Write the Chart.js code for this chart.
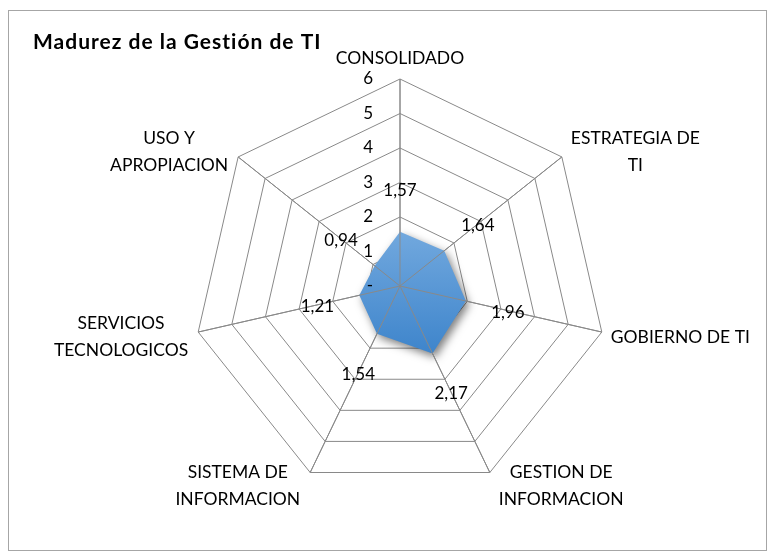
<!DOCTYPE html>
<html>
<head>
<meta charset="utf-8">
<script src="https://cdn.jsdelivr.net/npm/chart.js@4/dist/chart.umd.min.js"></script>
<style>
  html, body { margin: 0; padding: 0; background: #ffffff; }
  #wrap { position: relative; width: 775px; height: 560px; }
  #frame { position: absolute; left: 8px; top: 10px; width: 759px; height: 541px; border: 1px solid #a6a6a6; box-sizing: border-box; pointer-events: none; }
  canvas { position: absolute; left: 0; top: 0; }
</style>
</head>
<body>
<div id="wrap">
  <canvas id="c" width="775" height="560"></canvas>
  <div id="frame"></div>
</div>
<script>
// ---- data ----
const chartTitle = 'Madurez de la Gestión de TI';
const categories = [
  ['CONSOLIDADO'],
  ['ESTRATEGIA DE', 'TI'],
  ['GOBIERNO DE TI'],
  ['GESTION DE', 'INFORMACION'],
  ['SISTEMA DE', 'INFORMACION'],
  ['SERVICIOS', 'TECNOLOGICOS'],
  ['USO Y', 'APROPIACION']
];
const seriesValues = [1.57, 1.64, 1.96, 2.17, 1.54, 1.21, 0.94];
const tickValues = [0, 1, 2, 3, 4, 5, 6];
const tickLabels = ['-', '1', '2', '3', '4', '5', '6'];

const FONT = 'Lato, "Open Sans", sans-serif';
const GRID = '#898989';

const excelPlugin = {
  id: 'excelLook',
  beforeDatasetsDraw(chart) {
    const ctx = chart.ctx;
    ctx.save();
    ctx.shadowColor = 'rgba(0,0,0,0.5)';
    ctx.shadowBlur = 9;
    ctx.shadowOffsetX = 3;
    ctx.shadowOffsetY = 4;
  },
  afterDatasetsDraw(chart) {
    const ctx = chart.ctx;
    ctx.restore();
    const s = chart.scales.r;
    // angle lines above the series
    ctx.save();
    ctx.strokeStyle = GRID;
    ctx.lineWidth = 1;
    for (let i = 0; i < categories.length; i++) {
      const p = s.getPointPosition(i, s.drawingArea);
      ctx.beginPath();
      ctx.moveTo(s.xCenter, s.yCenter);
      ctx.lineTo(p.x, p.y);
      ctx.stroke();
    }
    ctx.restore();
  },
  afterDraw(chart) {
    const ctx = chart.ctx;
    const s = chart.scales.r;
    ctx.save();
    ctx.fillStyle = '#000000';
    // title
    ctx.font = 'bold 21px ' + FONT;
    if ('letterSpacing' in ctx) ctx.letterSpacing = '1px';
    ctx.textAlign = 'left';
    ctx.textBaseline = 'middle';
    ctx.fillText(chartTitle, 33, 42);
    if ('letterSpacing' in ctx) ctx.letterSpacing = '0px';

    // tick labels (left of the vertical axis)
    ctx.font = '17px ' + FONT;
    ctx.textAlign = 'right';
    tickValues.forEach((v, k) => {
      const y = s.yCenter - s.getDistanceFromCenterForValue(v);
      ctx.fillText(tickLabels[k], s.xCenter - 27, y);
    });

    // category labels
    ctx.font = '17.5px ' + FONT;
    ctx.textAlign = 'center';
    const lh = 27;
    categories.forEach((lines, i) => {
      const a = i * 2 * Math.PI / categories.length;
      const sn = Math.sin(a), cs = Math.cos(a);
      const v = s.getPointPosition(i, s.drawingArea);
      const w = Math.max(...lines.map(t => ctx.measureText(t).width));
      let cx, cy;
      if (Math.abs(sn) < 0.01) {
        cx = v.x;
        cy = v.y - 21 - (lines.length - 1) * lh / 2;
      } else {
        cy = v.y - cs * 12 + 2.5;
        cx = sn > 0 ? v.x + 9 + w / 2 : v.x - 10 - w / 2;
      }
      lines.forEach((t, k) => {
        ctx.fillText(t, cx, cy + (k - (lines.length - 1) / 2) * lh);
      });
    });

    // data labels
    ctx.font = '17px ' + FONT;
    seriesValues.forEach((val, i) => {
      const p = s.getPointPosition(i, s.getDistanceFromCenterForValue(val) + 43);
      ctx.fillText(val.toFixed(2).replace('.', ','), p.x, p.y + 1.5);
    });
    ctx.restore();
  }
};

new Chart(document.getElementById('c'), {
  type: 'radar',
  data: {
    labels: categories,
    datasets: [{
      data: seriesValues,
      backgroundColor(context) {
        const chart = context.chart;
        const s = chart.scales.r;
        if (!s || !chart.chartArea) return '#5b9bd5';
        const g = chart.ctx.createLinearGradient(0, s.yCenter - 60, 0, s.yCenter + 70);
        g.addColorStop(0, '#74aadf');
        g.addColorStop(1, '#3d84cb');
        return g;
      },
      borderWidth: 0,
      borderColor: 'rgba(0,0,0,0)',
      pointRadius: 0,
      pointHoverRadius: 0,
      fill: true
    }]
  },
  options: {
    responsive: false,
    animation: false,
    events: [],
    layout: { padding: { left: 193, right: 168, top: 79, bottom: 67 } },
    plugins: {
      legend: { display: false },
      title: { display: false },
      tooltip: { enabled: false }
    },
    scales: {
      r: {
        min: 0,
        max: 6,
        startAngle: 0,
        ticks: { stepSize: 1, display: false },
        grid: { color: GRID, lineWidth: 1, circular: false },
        angleLines: { display: true, color: GRID, lineWidth: 1 },
        pointLabels: { display: false }
      }
    }
  },
  plugins: [excelPlugin]
});
</script>
</body>
</html>
